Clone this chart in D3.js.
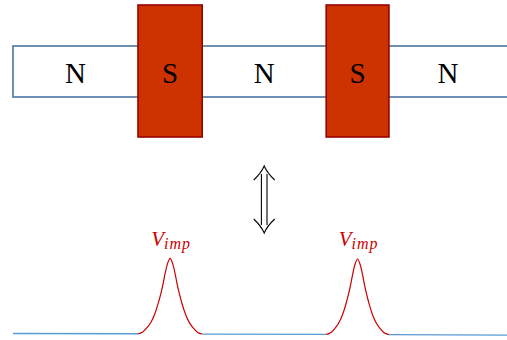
<!DOCTYPE html>
<html>
<head>
<meta charset="utf-8">
<script src="https://cdn.jsdelivr.net/npm/d3@7"></script>
<style>
  body { margin: 0; background: #fff; }
  svg { display: block; }
  text { font-family: "Liberation Serif", "DejaVu Serif", serif; }
</style>
</head>
<body>
<svg id="chart"></svg>
<script>
// regions along the wire (position units 0..100)
const regions = ["N", "S", "N", "S", "N"];
const bounds = [0, 25.3, 38.3, 63.4, 76.1, 100];

// peak profile across each S region: fraction of region width, height (peak = 1)
const profileU = [0, 0.07, 0.14, 0.2, 0.26, 0.31, 0.355, 0.39, 0.42, 0.46, 0.5,
                  0.54, 0.58, 0.61, 0.645, 0.69, 0.74, 0.8, 0.86, 0.93, 1];
const profileH = [0, 0.02, 0.08, 0.15, 0.26, 0.39, 0.53, 0.66, 0.79, 0.93, 1,
                  0.93, 0.79, 0.66, 0.53, 0.39, 0.26, 0.15, 0.08, 0.02, 0];

// baseline level at the region boundaries (slight drift)
const baseLevel = [0, -0.003, -0.007, -0.011, -0.015, -0.022];

const peakLabel = "V";
const peakSub = "imp";

const W = 507, H = 340;
const svg = d3.select("#chart").attr("width", W).attr("height", H);

const x = d3.scaleLinear().domain([0, 100]).range([13, 507]);
const y = d3.scaleLinear().domain([0, 1]).range([333.5, 258]);

const strip = { top: 46, bottom: 97 };
const magnet = { top: 5, bottom: 137 };

// N strip
svg.append("rect")
  .attr("x", x(0))
  .attr("y", strip.top)
  .attr("width", x(100) - x(0) + 5)
  .attr("height", strip.bottom - strip.top)
  .attr("fill", "#fff")
  .attr("stroke", "#4a76a0")
  .attr("stroke-width", 1.6);

const segs = regions.map((r, i) => ({ r, x0: bounds[i], x1: bounds[i + 1], i }));

// S magnets
svg.selectAll("rect.s")
  .data(segs.filter(d => d.r === "S"))
  .join("rect")
  .attr("class", "s")
  .attr("x", d => x(d.x0))
  .attr("y", magnet.top)
  .attr("width", d => x(d.x1) - x(d.x0))
  .attr("height", magnet.bottom - magnet.top)
  .attr("fill", "#cc3300")
  .attr("stroke", "#990000")
  .attr("stroke-width", 1.6);

svg.selectAll("text.reg")
  .data(segs)
  .join("text")
  .attr("class", "reg")
  .attr("x", d => x((d.x0 + d.x1) / 2))
  .attr("y", 82.5)
  .attr("text-anchor", "middle")
  .attr("font-size", 29)
  .attr("fill", "#000")
  .text(d => d.r);

// double arrow
const ax = x((bounds[2] + bounds[3]) / 2);
const aTop = 166, aBot = 233;
const arrow = d3.path();
arrow.moveTo(ax - 2.8, aTop + 8); arrow.lineTo(ax - 2.8, aBot - 8);
arrow.moveTo(ax + 2.8, aTop + 8); arrow.lineTo(ax + 2.8, aBot - 8);
svg.append("path")
  .attr("d", arrow.toString())
  .attr("stroke", "#000").attr("stroke-width", 1.1).attr("fill", "none");
const head = (tipY, dir) => {
  const p = d3.path();
  p.moveTo(ax - 10.5, tipY + dir * 14);
  p.quadraticCurveTo(ax - 3, tipY + dir * 7, ax, tipY);
  p.quadraticCurveTo(ax + 3, tipY + dir * 7, ax + 10.5, tipY + dir * 14);
  return p.toString();
};
svg.append("path").attr("d", head(aTop, 1))
  .attr("stroke", "#000").attr("stroke-width", 1.1).attr("fill", "none");
svg.append("path").attr("d", head(aBot, -1))
  .attr("stroke", "#000").attr("stroke-width", 1.1).attr("fill", "none");

// baseline (N regions) in blue
const line = d3.line().x(d => x(d[0])).y(d => y(d[1]));
svg.selectAll("path.base")
  .data(segs.filter(d => d.r === "N"))
  .join("path")
  .attr("class", "base")
  .attr("d", d => line([[d.x0, baseLevel[d.i]], [d.x1, baseLevel[d.i + 1]]]))
  .attr("stroke", "#5b9bd5")
  .attr("stroke-width", 1.3)
  .attr("fill", "none");

// peaks (S regions) in red
const curve = d3.line().x(d => x(d[0])).y(d => y(d[1])).curve(d3.curveMonotoneX);
const peaks = segs.filter(d => d.r === "S");
svg.selectAll("path.peak")
  .data(peaks)
  .join("path")
  .attr("class", "peak")
  .attr("d", d => curve(profileU.map((u, k) => {
    const b = baseLevel[d.i] + (baseLevel[d.i + 1] - baseLevel[d.i]) * u;
    return [d.x0 + u * (d.x1 - d.x0), b + profileH[k]];
  })))
  .attr("stroke", "#cc0000")
  .attr("stroke-width", 1.2)
  .attr("fill", "none");

const lbl = svg.selectAll("text.vimp")
  .data(peaks)
  .join("text")
  .attr("class", "vimp")
  .attr("x", d => x((d.x0 + d.x1) / 2) + 1)
  .attr("y", y(1) - 12)
  .attr("text-anchor", "middle")
  .attr("font-style", "italic")
  .attr("fill", "#cc0000");
lbl.append("tspan").attr("font-size", 21).text(peakLabel);
lbl.append("tspan").attr("font-size", 16).attr("letter-spacing", 1)
  .attr("dy", 3).text(peakSub);
</script>
</body>
</html>
